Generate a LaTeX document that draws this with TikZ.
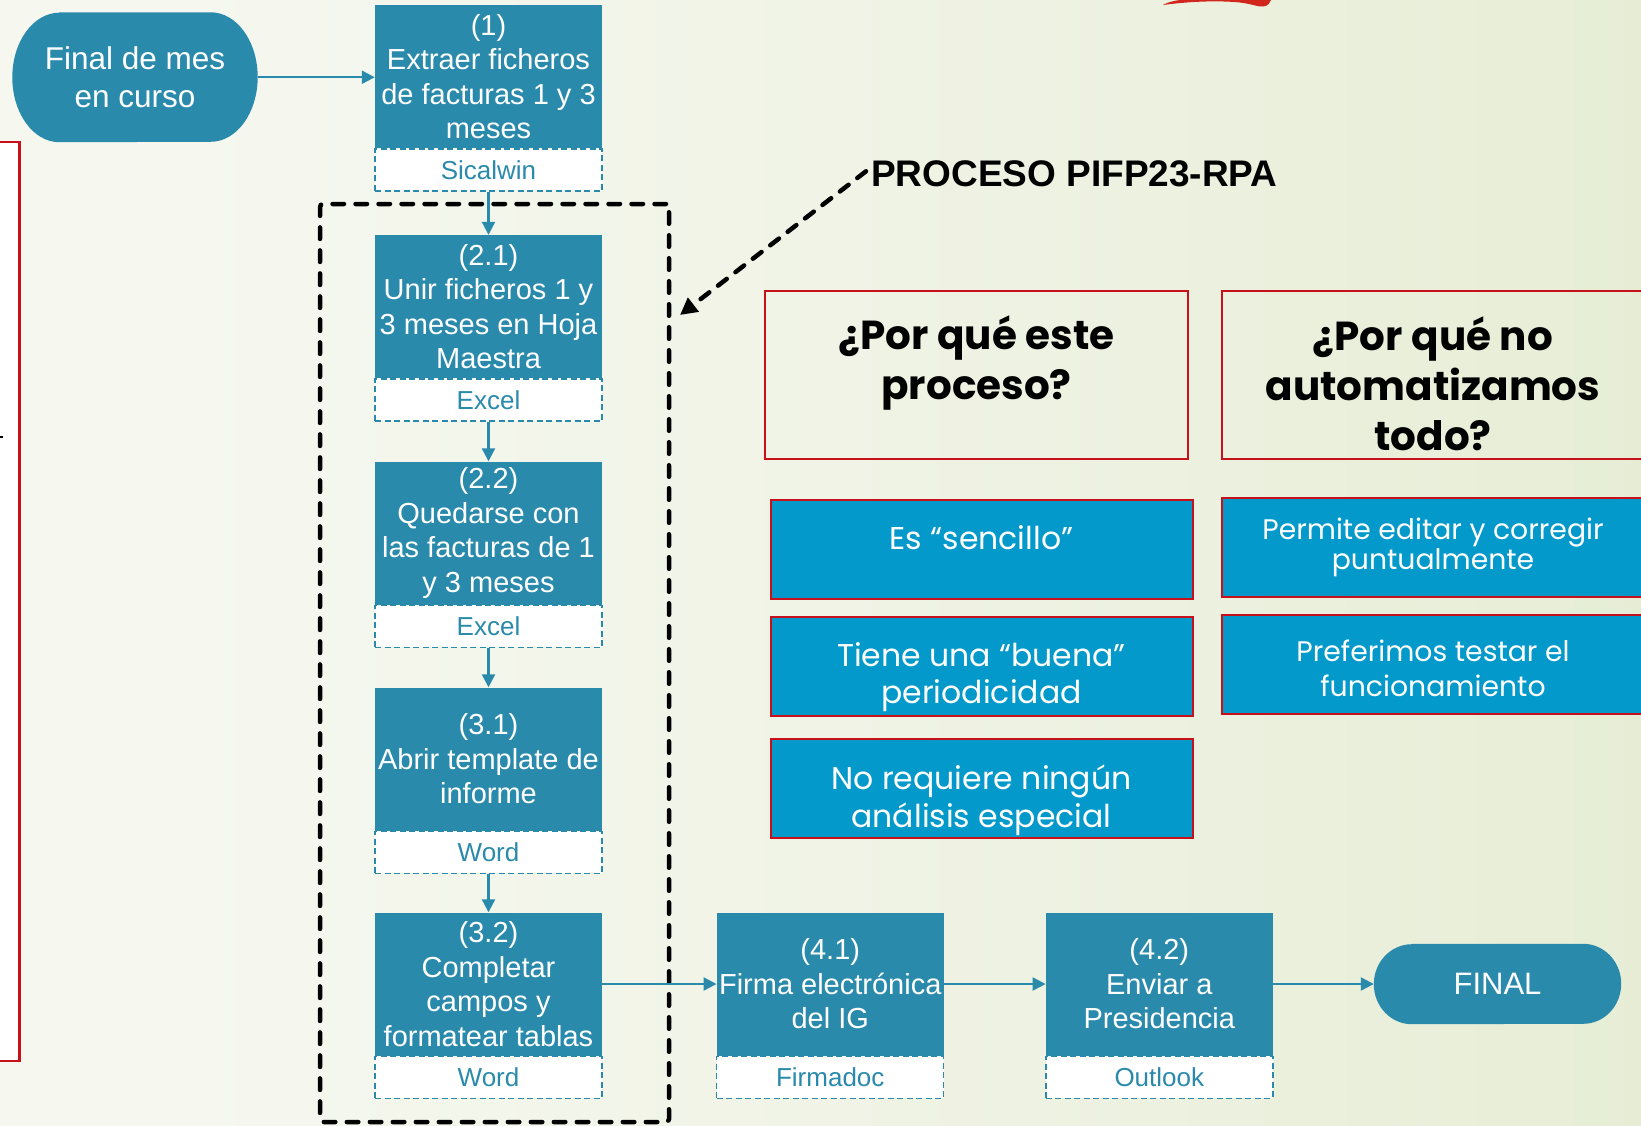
\documentclass[tikz,border=0pt]{standalone}
\usepackage{fontspec}
\setmainfont{Liberation Sans}
\newfontfamily\gothic{Poppins}
\usetikzlibrary{arrows.meta,backgrounds}
\definecolor{flowc}{HTML}{2A8AAB}
\definecolor{qblue}{HTML}{0399CB}
\definecolor{qred}{HTML}{C8101A}
\definecolor{bgL}{HTML}{F6F8F0}
\definecolor{bgM}{HTML}{EDF1E0}
\definecolor{bgR}{HTML}{DCE7C3}
\definecolor{swoosh}{HTML}{D0261E}
\pgfdeclarehorizontalshading{bgshade}{100bp}{color(0bp)=(bgL); color(30bp)=(bgL); color(60bp)=(bgM); color(100bp)=(bgR)}
\begin{document}
\begin{tikzpicture}[x=1pt,y=-1pt,
  procbox/.style={fill=flowc, text=white, minimum width=227pt, minimum height=143pt, inner sep=0pt, align=center, font=\fontsize{29}{34.5}\selectfont},
  toolbox/.style={draw=flowc, dash pattern=on 6pt off 3.5pt, line width=1.4pt, fill=white, minimum width=227pt, minimum height=42pt, inner sep=0pt, text=flowc, font=\fontsize{26}{30}\selectfont, anchor=north},
  terminal/.style={text=white, inner sep=0pt, align=center},
  flow/.style={draw=flowc, line width=2.2pt, -{Triangle[length=13pt,width=13pt]}},
  qbox/.style={draw=qred, line width=2pt, minimum width=423pt, minimum height=167.5pt, inner sep=0pt},
  qtitle/.style={font=\gothic\bfseries\fontsize{40.5}{50}\selectfont, align=center, inner sep=0pt, anchor=north},
  bbox/.style={draw=qred, line width=2pt, fill=qblue, minimum width=422pt, minimum height=99.4pt, inner sep=0pt},
  btext/.style={text=white, align=center, inner sep=0pt, anchor=north},
  rpabox/.style={draw=black, line width=4.5pt, dash pattern=on 11.5pt off 11.5pt, line cap=round, rounded corners=3pt, minimum width=349pt, minimum height=918pt, inner sep=0pt},
  rpaarrow/.style={draw=black, line width=4.5pt, dash pattern=on 11pt off 11pt, line cap=round, -{Triangle[length=17pt,width=17pt]}}
]
\useasboundingbox (0,0) rectangle (1641,1125);
\begin{scope}[on background layer]
  \shade[shading=bgshade] (0,0) rectangle (1641,1125);
  \draw[qred, line width=2.2pt, fill=white] (-5,142) rectangle (19.5,1061);
\end{scope}

% small mark at left edge
\draw[line width=1.2pt] (0,437) -- (2.5,437);

% top red swoosh
\fill[swoosh] (1163,5) .. controls (1185,2) and (1215,0) .. (1240,2.5) .. controls (1252,4) and (1258,7) .. (1263,6.5) .. controls (1268,6) and (1270,3) .. (1271,0) -- (1180,0) .. controls (1172,1) and (1166,3) .. cycle;

% start terminal
\node[terminal, minimum width=245pt, minimum height=129.5pt, font=\fontsize{31.5}{38.7}\selectfont] (start) at (135,77.25) {Final de mes\\en curso};
\begin{scope}[on background layer]
  \fill[flowc] ([xshift=47pt]start.north west) -- ([xshift=-47pt]start.north east)
    arc[start angle=90,end angle=-90,x radius=47pt,y radius=64.75pt]
    -- ([xshift=47pt]start.south west)
    arc[start angle=270,end angle=90,x radius=47pt,y radius=64.75pt] -- cycle;
\end{scope}

% RPA dashed frame
\node[rpabox] (rpa) at (494.5,663) {};

% process boxes
\node[procbox] (b1) at (488.5,76.5) {(1)\\Extraer ficheros\\de facturas 1 y 3\\meses};
\node[toolbox] (t1) at (b1.south) {Sicalwin};
\node[procbox] (b21) at (488.5,306.5) {(2.1)\\Unir ficheros 1 y\\3 meses en Hoja\\Maestra};
\node[toolbox] (t21) at (b21.south) {Excel};
\node[procbox] (b22) at (488.5,533) {(2.2)\\Quedarse con\\las facturas de 1\\y 3 meses};
\node[toolbox] (t22) at (b22.south) {Excel};
\node[procbox] (b31) at (488.5,759) {(3.1)\\Abrir template de\\informe};
\node[toolbox] (t31) at (b31.south) {Word};
\node[procbox] (b32) at (488.5,984) {(3.2)\\Completar\\campos y\\formatear tablas};
\node[toolbox] (t32) at (b32.south) {Word};
\node[procbox] (b41) at (830.25,984) {(4.1)\\Firma electrónica\\del IG};
\node[toolbox] (t41) at (b41.south) {Firmadoc};
\node[procbox] (b42) at (1159.3,984) {(4.2)\\Enviar a\\Presidencia};
\node[toolbox] (t42) at (b42.south) {Outlook};

% final terminal
\node[terminal, minimum width=247pt, minimum height=80pt, font=\fontsize{31}{37}\selectfont] (fin) at (1497.5,984) {FINAL};
\begin{scope}[on background layer]
  \fill[flowc] ([xshift=38pt]fin.north west) -- ([xshift=-38pt]fin.north east)
    arc[start angle=90,end angle=-90,x radius=38pt,y radius=40pt]
    -- ([xshift=38pt]fin.south west)
    arc[start angle=270,end angle=90,x radius=38pt,y radius=40pt] -- cycle;
\end{scope}

% flow arrows
\draw[flow] (start.east) -- (start.east -| b1.west);
\draw[flow] (t1.south) -- (b21.north);
\draw[flow] (t21.south) -- (b22.north);
\draw[flow] (t22.south) -- (b31.north);
\draw[flow] (t31.south) -- (b32.north);
\draw[flow] (b32.east) -- (b41.west);
\draw[flow] (b41.east) -- (b42.west);
\draw[flow] (b42.east) -- (fin.west);

% process label and pointer
\node[font=\bfseries\fontsize{37}{44}\selectfont, anchor=base west, inner sep=0pt] (rpalabel) at (871,186) {PROCESO PIFP23-RPA};
\coordinate (rpatip) at (680,315);
\draw[rpaarrow] ([xshift=-5pt,yshift=2pt]rpalabel.west) -- (rpatip);

% question boxes
\node[qbox] (q1) at (976.5,374.75) {};
\node[qtitle] (q1t) at ([yshift=-26pt]q1.north) {¿Por qué este\\proceso?};
\node[qbox, minimum width=422.8pt] (q2) at (1433,374.75) {};
\node[qtitle] (q2t) at ([yshift=-27pt]q2.north) {¿Por qué no\\automatizamos\\todo?};

% answer boxes
\node[bbox] (a1) at (981.5,549.3) {};
\node[btext, font=\gothic\fontsize{31.5}{37.6}\selectfont] (a1t) at ([yshift=-27pt]a1.north) {Es “sencillo”};
\node[bbox] (a2) at (981.5,666.7) {};
\node[btext, font=\gothic\fontsize{31.5}{37.6}\selectfont] (a2t) at ([yshift=-26pt]a2.north) {Tiene una “buena”\\periodicidad};
\node[bbox] (a3) at (981.5,788.3) {};
\node[btext, font=\gothic\fontsize{31.5}{37.6}\selectfont] (a3t) at ([yshift=-27pt]a3.north) {No requiere ningún\\análisis especial};
\node[bbox, minimum width=422.8pt] (a4) at (1433,547.75) {};
\node[btext, font=\gothic\fontsize{28.3}{28.2}\selectfont] (a4t) at ([yshift=-21pt]a4.north) {Permite editar y corregir\\puntualmente};
\node[bbox, minimum width=422.8pt] (a5) at (1433,664.5) {};
\node[btext, font=\gothic\fontsize{28.3}{34.6}\selectfont] (a5t) at ([yshift=-26pt]a5.north) {Preferimos testar el\\funcionamiento};
\end{tikzpicture}
\end{document}
